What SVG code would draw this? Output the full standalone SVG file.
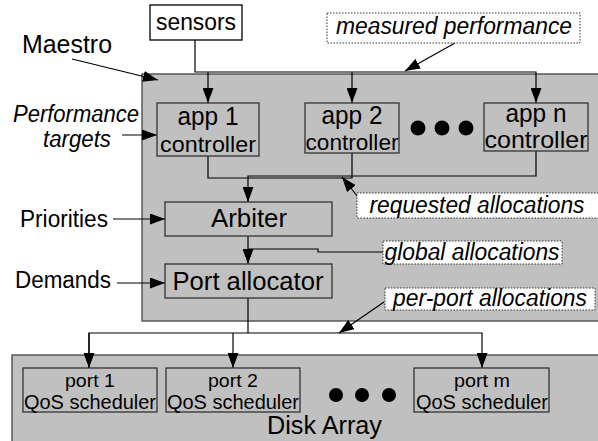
<svg xmlns="http://www.w3.org/2000/svg" width="598" height="441" viewBox="0 0 598 441">
<defs>
<style>
text{font-family:"Liberation Sans",Arial,sans-serif;fill:#000}
.it{font-style:italic}
.big{fill:#c0c0c0;stroke:#444;stroke-width:1.3}
.box{fill:#c0c0c0;stroke:#333;stroke-width:1.3}
.wbox{fill:#fff;stroke:#000;stroke-width:1.3}
.lbl{fill:#fff;stroke:#333;stroke-width:1;stroke-dasharray:1.5 1.5}
.ln{fill:none;stroke:#000;stroke-width:1.2}
.dot{fill:#000}
</style>
<marker id="ah" markerUnits="userSpaceOnUse" markerWidth="15" markerHeight="11" refX="15" refY="5.5" orient="auto">
<path d="M0,0 L15,5.5 L0,11 z" fill="#000"/>
</marker>
</defs>
<rect width="598" height="441" fill="#fff"/>

<g id="maestro">
<rect class="big" x="142" y="74" width="460" height="247"/>
<text x="22" y="53" font-size="25" textLength="90" lengthAdjust="spacingAndGlyphs">Maestro</text>
</g>
<g id="disk-array">
<rect class="big" x="12" y="355" width="590" height="100"/>
<text x="267" y="434" font-size="26" textLength="115" lengthAdjust="spacingAndGlyphs">Disk Array</text>
</g>

<g id="connectors">
<path class="ln" d="M195,40 V72 H536 V103" marker-end="url(#ah)"/>
<path class="ln" d="M208,72 V103" marker-end="url(#ah)"/>
<path class="ln" d="M352,72 V103" marker-end="url(#ah)"/>
<path class="ln" d="M72,59 L158,80" marker-end="url(#ah)"/>
<path class="ln" d="M122,135 L157,135" marker-end="url(#ah)"/>
<path class="ln" d="M455,43 L405,71" marker-end="url(#ah)"/>
<path class="ln" d="M208,156 V178 H352 V152"/>
<path class="ln" d="M536,151 V176 H248 V202" marker-end="url(#ah)"/>
<path class="ln" d="M358,197 L342,177" marker-end="url(#ah)"/>
<path class="ln" d="M113,219 H165" marker-end="url(#ah)"/>
<path class="ln" d="M117,283 H165" marker-end="url(#ah)"/>
<path class="ln" d="M248,236 V264" marker-end="url(#ah)"/>
<path class="ln" d="M248,249 H318 V252 H383"/>
<path class="ln" d="M248,298 V333"/>
<path class="ln" d="M89,368 V333 H482 V368" marker-end="url(#ah)"/>
<path class="ln" d="M89,333 V368" marker-end="url(#ah)"/>
<path class="ln" d="M233,333 V368" marker-end="url(#ah)"/>
<path class="ln" d="M384,302 L339,333" marker-end="url(#ah)"/>
</g>

<g id="sensors">
<rect class="wbox" x="150" y="5" width="92" height="35"/>
<text x="196" y="30" font-size="23" text-anchor="middle" textLength="80" lengthAdjust="spacingAndGlyphs">sensors</text>
</g>

<g id="performance-targets">
<text class="it" x="76" y="122" font-size="23" text-anchor="middle" textLength="126" lengthAdjust="spacingAndGlyphs">Performance</text>
<text class="it" x="77" y="147" font-size="23" text-anchor="middle" textLength="68" lengthAdjust="spacingAndGlyphs">targets</text>
</g>

<g id="app1">
<rect class="box" x="157" y="103" width="102" height="53"/>
<text x="208" y="125" font-size="25" text-anchor="middle" textLength="61" lengthAdjust="spacingAndGlyphs">app 1</text>
<text x="208" y="152" font-size="22" text-anchor="middle" textLength="96" lengthAdjust="spacingAndGlyphs">controller</text>
</g>
<g id="app2">
<rect class="box" x="305" y="103" width="94" height="50"/>
<text x="352" y="124" font-size="25" text-anchor="middle" textLength="61" lengthAdjust="spacingAndGlyphs">app 2</text>
<text x="352" y="150" font-size="22" text-anchor="middle" textLength="93" lengthAdjust="spacingAndGlyphs">controller</text>
</g>
<g id="dots-apps">
<circle class="dot" cx="418" cy="128" r="7.5"/>
<circle class="dot" cx="442" cy="128" r="7.5"/>
<circle class="dot" cx="466" cy="128" r="7.5"/>
</g>
<g id="appn">
<rect class="box" x="484" y="103" width="104" height="48"/>
<text x="536" y="122" font-size="25" text-anchor="middle" textLength="61" lengthAdjust="spacingAndGlyphs">app n</text>
<text x="536" y="148" font-size="24" text-anchor="middle" textLength="103" lengthAdjust="spacingAndGlyphs">controller</text>
</g>

<g id="measured-performance">
<rect class="lbl" x="327" y="13" width="253" height="30"/>
<text class="it" x="454" y="34" font-size="23" text-anchor="middle" textLength="236" lengthAdjust="spacingAndGlyphs">measured performance</text>
</g>

<g id="requested-allocations">
<rect class="lbl" x="357" y="193" width="245" height="25"/>
<text class="it" x="477" y="213" font-size="23" text-anchor="middle" textLength="215" lengthAdjust="spacingAndGlyphs">requested allocations</text>
</g>

<g id="priorities">
<text x="64" y="227" font-size="23" text-anchor="middle" textLength="88" lengthAdjust="spacingAndGlyphs">Priorities</text>
</g>
<g id="arbiter">
<rect class="box" x="165" y="202" width="167" height="34"/>
<text x="249" y="227" font-size="25" text-anchor="middle" textLength="76" lengthAdjust="spacingAndGlyphs">Arbiter</text>
</g>

<g id="global-allocations">
<rect class="lbl" x="383" y="241" width="179" height="23"/>
<text class="it" x="472" y="260" font-size="23" text-anchor="middle" textLength="175" lengthAdjust="spacingAndGlyphs">global allocations</text>
</g>

<g id="demands">
<text x="63" y="288" font-size="23" text-anchor="middle" textLength="96" lengthAdjust="spacingAndGlyphs">Demands</text>
</g>
<g id="port-allocator">
<rect class="box" x="165" y="264" width="167" height="34"/>
<text x="248" y="290" font-size="26" text-anchor="middle" textLength="151" lengthAdjust="spacingAndGlyphs">Port allocator</text>
</g>

<g id="per-port-allocations">
<rect class="lbl" x="385" y="288" width="210" height="22"/>
<text class="it" x="490" y="306" font-size="23" text-anchor="middle" textLength="194" lengthAdjust="spacingAndGlyphs">per-port allocations</text>
</g>

<g id="port1">
<rect class="box" x="23" y="368" width="134" height="44"/>
<text x="90" y="387" font-size="19" text-anchor="middle" textLength="50" lengthAdjust="spacingAndGlyphs">port 1</text>
<text x="90" y="409" font-size="20" text-anchor="middle" textLength="132" lengthAdjust="spacingAndGlyphs">QoS scheduler</text>
</g>
<g id="port2">
<rect class="box" x="166" y="368" width="134" height="44"/>
<text x="233" y="387" font-size="19" text-anchor="middle" textLength="50" lengthAdjust="spacingAndGlyphs">port 2</text>
<text x="233" y="409" font-size="20" text-anchor="middle" textLength="132" lengthAdjust="spacingAndGlyphs">QoS scheduler</text>
</g>
<g id="dots-ports">
<circle class="dot" cx="336" cy="395" r="7"/>
<circle class="dot" cx="362" cy="395" r="7"/>
<circle class="dot" cx="389" cy="395" r="7"/>
</g>
<g id="portm">
<rect class="box" x="414" y="368" width="135" height="44"/>
<text x="482" y="387" font-size="19" text-anchor="middle" textLength="56" lengthAdjust="spacingAndGlyphs">port m</text>
<text x="482" y="409" font-size="20" text-anchor="middle" textLength="132" lengthAdjust="spacingAndGlyphs">QoS scheduler</text>
</g>
</svg>
